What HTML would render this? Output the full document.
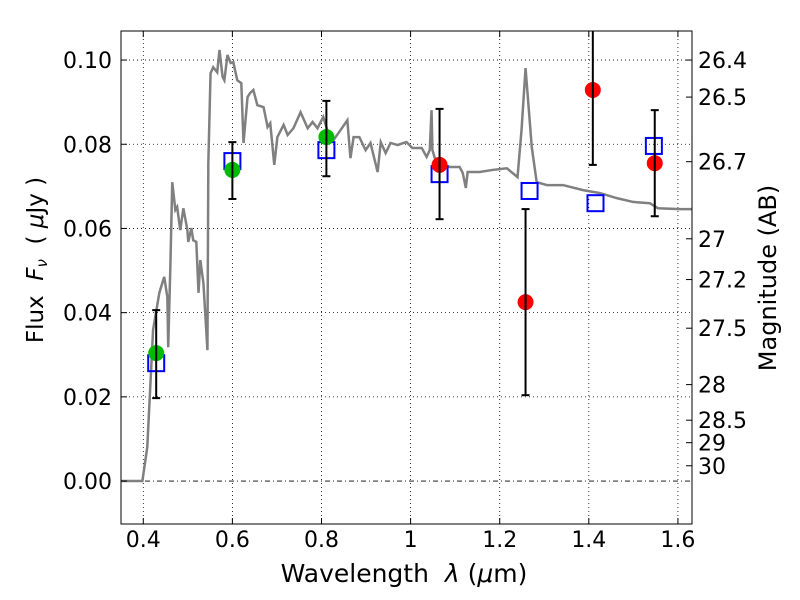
<!DOCTYPE html>
<html><head><meta charset="utf-8"><style>
body{margin:0;background:#fff;}
svg{display:block;font-family:"DejaVu Sans","Liberation Sans",sans-serif;}
</style></head><body>
<svg id="chart" width="800" height="600"></svg>
<script>
const specWl=[0.348,0.398,0.409,0.422,0.436,0.440,0.447,0.454,0.456,0.461,0.465,0.472,0.476,0.483,0.490,0.499,0.501,0.508,0.512,0.519,0.524,0.528,0.535,0.544,0.546,0.551,0.557,0.566,0.571,0.578,0.582,0.589,0.596,0.602,0.611,0.620,0.625,0.634,0.640,0.647,0.656,0.670,0.679,0.685,0.694,0.701,0.715,0.724,0.737,0.753,0.769,0.780,0.791,0.804,0.813,0.827,0.843,0.858,0.865,0.872,0.885,0.899,0.910,0.926,0.933,0.944,0.955,0.971,0.984,0.991,1.004,1.025,1.036,1.043,1.047,1.049,1.058,1.088,1.110,1.117,1.124,1.128,1.155,1.184,1.216,1.240,1.249,1.258,1.272,1.283,1.306,1.342,1.387,1.425,1.463,1.499,1.537,1.555,1.604,1.631];
const specFlux=[0,0,0.0081,0.0359,0.0447,0.0461,0.0485,0.0437,0.0318,0.0518,0.0710,0.0644,0.0651,0.0596,0.0648,0.0596,0.0568,0.0601,0.0572,0.0568,0.0447,0.0525,0.0470,0.0311,0.0755,0.0969,0.0983,0.0971,0.1024,0.0960,0.0952,0.1012,0.0993,0.0995,0.0952,0.0945,0.0803,0.0912,0.0922,0.0929,0.0893,0.0888,0.0841,0.0850,0.0751,0.0817,0.0846,0.0822,0.0838,0.0876,0.0838,0.0853,0.0838,0.0865,0.0834,0.0810,0.0834,0.0857,0.0767,0.0817,0.0817,0.0786,0.0803,0.0734,0.0805,0.0779,0.0803,0.0798,0.0803,0.0805,0.0791,0.0791,0.0770,0.0786,0.0881,0.0786,0.0755,0.0746,0.0746,0.0732,0.0696,0.0734,0.0734,0.0739,0.0743,0.0722,0.0834,0.0981,0.0793,0.0710,0.0703,0.0703,0.0691,0.0684,0.0672,0.0663,0.0660,0.0648,0.0646,0.0646];
const modelWl=[0.429,0.600,0.811,1.065,1.267,1.415,1.546];
const modelFlux=[0.0280,0.0760,0.0786,0.0729,0.0689,0.0660,0.0796];
const greenWl=[0.429,0.600,0.811];
const greenFlux=[0.0304,0.0739,0.0817];
const greenLo=[0.0197,0.0670,0.0724];
const greenHi=[0.0406,0.0805,0.0903];
const redWl=[1.065,1.258,1.409,1.548];
const redFlux=[0.0751,0.0425,0.0929,0.0755];
const redLo=[0.0622,0.0204,0.0751,0.0629];
const redHi=[0.0884,0.0646,0.115,0.0881];
const xTicks=[0.4,0.6,0.8,1.0,1.2,1.4,1.6];
const xTickLabels=["0.4","0.6","0.8","1","1.2","1.4","1.6"];
const yTicks=[0,0.02,0.04,0.06,0.08,0.10];
const yTickLabels=["0.00","0.02","0.04","0.06","0.08","0.10"];
const magTicks=[26.4,26.5,26.7,27,27.2,27.5,28,28.5,29,30];
const magLabels=["26.4","26.5","26.7","27","27.2","27.5","28","28.5","29","30"];

const L=121,R=692,T=31,B=524,X0=0.35,X1=1.6316,Y0=-0.0102,Y1=0.1069;
const sx=v=>L+(v-X0)/(X1-X0)*(R-L);
const sy=v=>B-(v-Y0)/(Y1-Y0)*(B-T);
const NS="http://www.w3.org/2000/svg";
const svg=document.getElementById('chart');
function mk(tag,attrs,parent){const e=document.createElementNS(NS,tag);for(const k in attrs)e.setAttribute(k,attrs[k]);(parent||svg).appendChild(e);return e;}
const defs=mk('clipPath',{id:'clip'});mk('rect',{x:L,y:T,width:R-L,height:B-T},defs);
xTicks.forEach(v=>{const g=mk('line',{x1:sx(v),x2:sx(v),y1:T,y2:B,stroke:'#000','stroke-width':0.8,'stroke-dasharray':'1,3'});

});
yTicks.forEach(v=>{const g=mk('line',{x1:L,x2:R,y1:sy(v),y2:sy(v),stroke:'#000','stroke-width':0.8,'stroke-dasharray':v===0?'5,3,1,3':'1,3'});

});
const sp=mk('polyline',{points:specWl.map((w,i)=>sx(w)+','+sy(specFlux[i])).join(' '),fill:'none',stroke:'#808080','stroke-width':2.5,'clip-path':'url(#clip)'});


modelWl.forEach((w,i)=>{const s=mk('rect',{x:sx(w)-8,y:sy(modelFlux[i])-8,width:16,height:16,fill:'none',stroke:'#0000ff','stroke-width':2});

});
function errbar(w,lo,hi){const g=mk('g',{stroke:'#000','stroke-width':2,'clip-path':'url(#clip)'});


mk('line',{x1:sx(w),x2:sx(w),y1:sy(lo),y2:sy(hi)},g);
mk('line',{x1:sx(w)-4,x2:sx(w)+4,y1:sy(lo),y2:sy(lo)},g);
mk('line',{x1:sx(w)-4,x2:sx(w)+4,y1:sy(hi),y2:sy(hi)},g);}
greenWl.forEach((w,i)=>{const c=mk('circle',{cx:sx(w),cy:sy(greenFlux[i]),r:8,fill:'#00bb00'});


errbar(w,greenLo[i],greenHi[i]);});
redWl.forEach((w,i)=>{const c=mk('circle',{cx:sx(w),cy:sy(redFlux[i]),r:8,fill:'#ff0000'});


errbar(w,redLo[i],redHi[i]);});
const fr=mk('rect',{x:L,y:T,width:R-L,height:B-T,fill:'none',stroke:'#000','stroke-width':1});


xTicks.forEach((v,i)=>{mk('line',{x1:sx(v),x2:sx(v),y1:B,y2:B-6,stroke:'#000'});mk('line',{x1:sx(v),x2:sx(v),y1:T,y2:T+6,stroke:'#000'});
const t=mk('text',{x:sx(v),y:B+23,'font-size':22,'text-anchor':'middle'});t.textContent=xTickLabels[i];

});
yTicks.forEach((v,i)=>{mk('line',{x1:L,x2:L+6,y1:sy(v),y2:sy(v),stroke:'#000'});
const t=mk('text',{x:L-9,y:sy(v)+8,'font-size':22,'text-anchor':'end'});t.textContent=yTickLabels[i];

});
magTicks.forEach((m,i)=>{const f=Math.pow(10,(23.9-m)/2.5);const y=sy(f);
mk('line',{x1:R-6,x2:R,y1:y,y2:y,stroke:'#000'});
const t=mk('text',{x:R+6,y:y+8,'font-size':22});t.textContent=magLabels[i];

});
</script>
<svg width="800" height="600" style="position:absolute;left:0;top:0">
<text x="404" y="582" font-size="25" text-anchor="middle" font-family="DejaVu Sans,sans-serif" xml:space="preserve">Wavelength  <tspan font-style="italic">λ</tspan> (<tspan font-style="italic">μ</tspan>m)</text>
<text transform="translate(43,260) rotate(-90)" font-size="23" text-anchor="middle" font-family="DejaVu Sans,sans-serif" xml:space="preserve">Flux  <tspan font-style="italic">F</tspan><tspan font-style="italic" font-size="15" dy="4">ν</tspan><tspan dy="-4">  ( </tspan><tspan font-style="italic">μ</tspan>Jy )</text>
<text transform="translate(776,278) rotate(-90)" font-size="24" text-anchor="middle" font-family="DejaVu Sans,sans-serif">Magnitude (AB)</text>
</svg>
</body></html>
